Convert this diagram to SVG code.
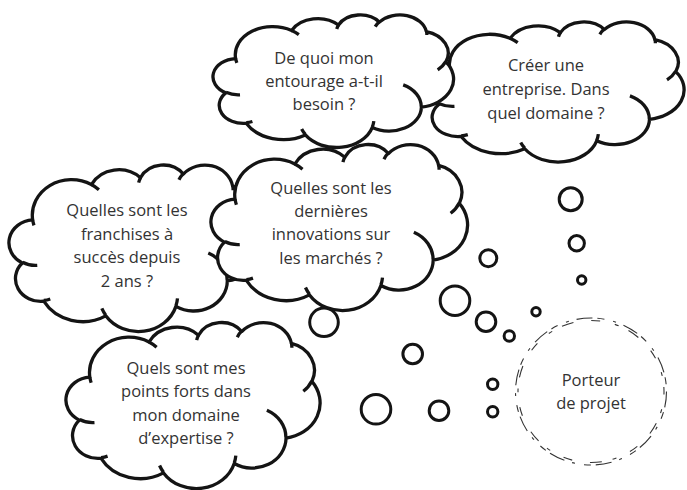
<svg xmlns="http://www.w3.org/2000/svg" xmlns:xlink="http://www.w3.org/1999/xlink" width="687" height="490" viewBox="0 0 687 490">
<style>
.co{fill:#fff;stroke:#141414;stroke-width:3.3;stroke-linejoin:round}
.ci{fill:none;stroke:#141414;stroke-width:3.3}
.b{fill:#fff;stroke:#141414;stroke-width:3}
.t{font-family:"Open Sans","Liberation Sans",sans-serif;font-size:16.5px;fill:#333;text-anchor:middle}
.d{fill:none;stroke:#333;stroke-width:1.1}
</style>
<defs>
<g id="cloud">
<path class="co" vector-effect="non-scaling-stroke" d="M9.03 33.26A15.63 21.27 0 0 1 32.42 12.04A12.35 16.82 0 0 1 51.98 7.95A10.1 13.76 0 0 1 69.06 5.75A11.24 15.27 0 0 1 88.7 12.92A12.35 16.84 0 0 1 96.8 35.8A15.68 21.34 0 0 1 86.58 69.92A13.39 18.21 0 0 1 66.1 85.22A15.63 21.33 0 0 1 38.15 90.9A17.87 24.41 0 0 1 13.45 82.11A10.09 13.7 0 0 1 4.9 59.14A10.06 13.76 0 0 1 9.03 33.26Z"/>
<path class="ci" vector-effect="non-scaling-stroke" d="M10.86 60.6A10.06 13.76 0 0 1 5 58.75M16.04 80.78A10.09 13.7 0 0 1 13.48 81.67M38.14 90.49A15.63 21.33 0 0 1 36.59 86.45M66.73 80.44A15.63 21.33 0 0 1 66.11 84.86M79 53.13A13.39 18.21 0 0 1 86.52 69.65M96.75 35.54A12.35 16.84 0 0 1 93.4 41.74M88.71 12.56A11.24 15.27 0 0 1 88.89 15.48M67.31 9.15A11.24 15.27 0 0 1 69.03 5.41M51.25 10.93A10.1 13.76 0 0 1 52.08 7.71M32.41 12.02A15.63 21.27 0 0 1 35.42 15.14M9.55 36.55A15.63 21.27 0 0 1 9.03 33.26"/>
</g>
</defs>
<rect width="687" height="490" fill="#fff"/>
<g id="connectors">
<circle class="b" cx="488.3" cy="258.3" r="8.5"/>
<circle class="b" cx="455" cy="300.7" r="14.8"/>
<circle class="b" cx="486" cy="321.7" r="9.8"/>
<circle class="b" cx="509.3" cy="336" r="5.2"/>
<circle class="b" cx="536" cy="311.7" r="4.2"/>
<circle class="b" cx="324" cy="322.3" r="14.3"/>
<circle class="b" cx="412.7" cy="354" r="9.8"/>
<circle class="b" cx="376" cy="409.3" r="14.8"/>
<circle class="b" cx="439" cy="410.7" r="9.8"/>
<circle class="b" cx="492.7" cy="384.3" r="5.2"/>
<circle class="b" cx="492.7" cy="411.7" r="5.2"/>
<circle class="b" cx="570.7" cy="199.3" r="11.5"/>
<circle class="b" cx="576.7" cy="243.3" r="7.7"/>
<circle class="b" cx="581.7" cy="280" r="4.2"/>
</g>
<g id="cloud2">
<use xlink:href="#cloud" href="#cloud" transform="translate(426.5 21.5) scale(2.575 1.4)"/>
<text class="t" x="546" y="71">Créer une</text>
<text class="t" x="546" y="95">entreprise. Dans</text>
<text class="t" x="546" y="119">quel domaine ?</text>
</g>
<g id="cloud1">
<use xlink:href="#cloud" href="#cloud" transform="translate(214 14.5) scale(2.395 1.325)"/>
<text class="t" x="324" y="64">De quoi mon</text>
<text class="t" x="324" y="87">entourage a-t-il</text>
<text class="t" x="324" y="110">besoin ?</text>
</g>
<g id="cloud3">
<use xlink:href="#cloud" href="#cloud" transform="translate(10 164.5) scale(2.51 1.665)"/>
<text class="t" x="127" y="216">Quelles sont les</text>
<text class="t" x="127" y="239.5">franchises à</text>
<text class="t" x="127" y="263">succès depuis</text>
<text class="t" x="127" y="286.5">2 ans ?</text>
</g>
<g id="cloud4">
<use xlink:href="#cloud" href="#cloud" transform="translate(212 144) scale(2.555 1.66)"/>
<text class="t" x="331" y="194">Quelles sont les</text>
<text class="t" x="331" y="217">dernières</text>
<text class="t" x="331" y="240">innovations sur</text>
<text class="t" x="331" y="263.5">les marchés ?</text>
</g>
<g id="cloud5">
<use xlink:href="#cloud" href="#cloud" transform="translate(67 322) scale(2.53 1.66)"/>
<text class="t" x="186" y="374">Quels sont mes</text>
<text class="t" x="186" y="397">points forts dans</text>
<text class="t" x="186" y="420.5">mon domaine</text>
<text class="t" x="186" y="443.5">d’expertise ?</text>
</g>
<g id="porteur">
<ellipse class="d" cx="591" cy="391.5" rx="75.5" ry="73.5" stroke-dasharray="16 5 7 9 3 8"/>
<ellipse class="d" cx="591" cy="391.5" rx="73" ry="71" stroke-dasharray="9 15 4 11 12 18" stroke-dashoffset="6"/>
<text class="t" x="591" y="386">Porteur</text>
<text class="t" x="591" y="409">de projet</text>
</g>
</svg>
